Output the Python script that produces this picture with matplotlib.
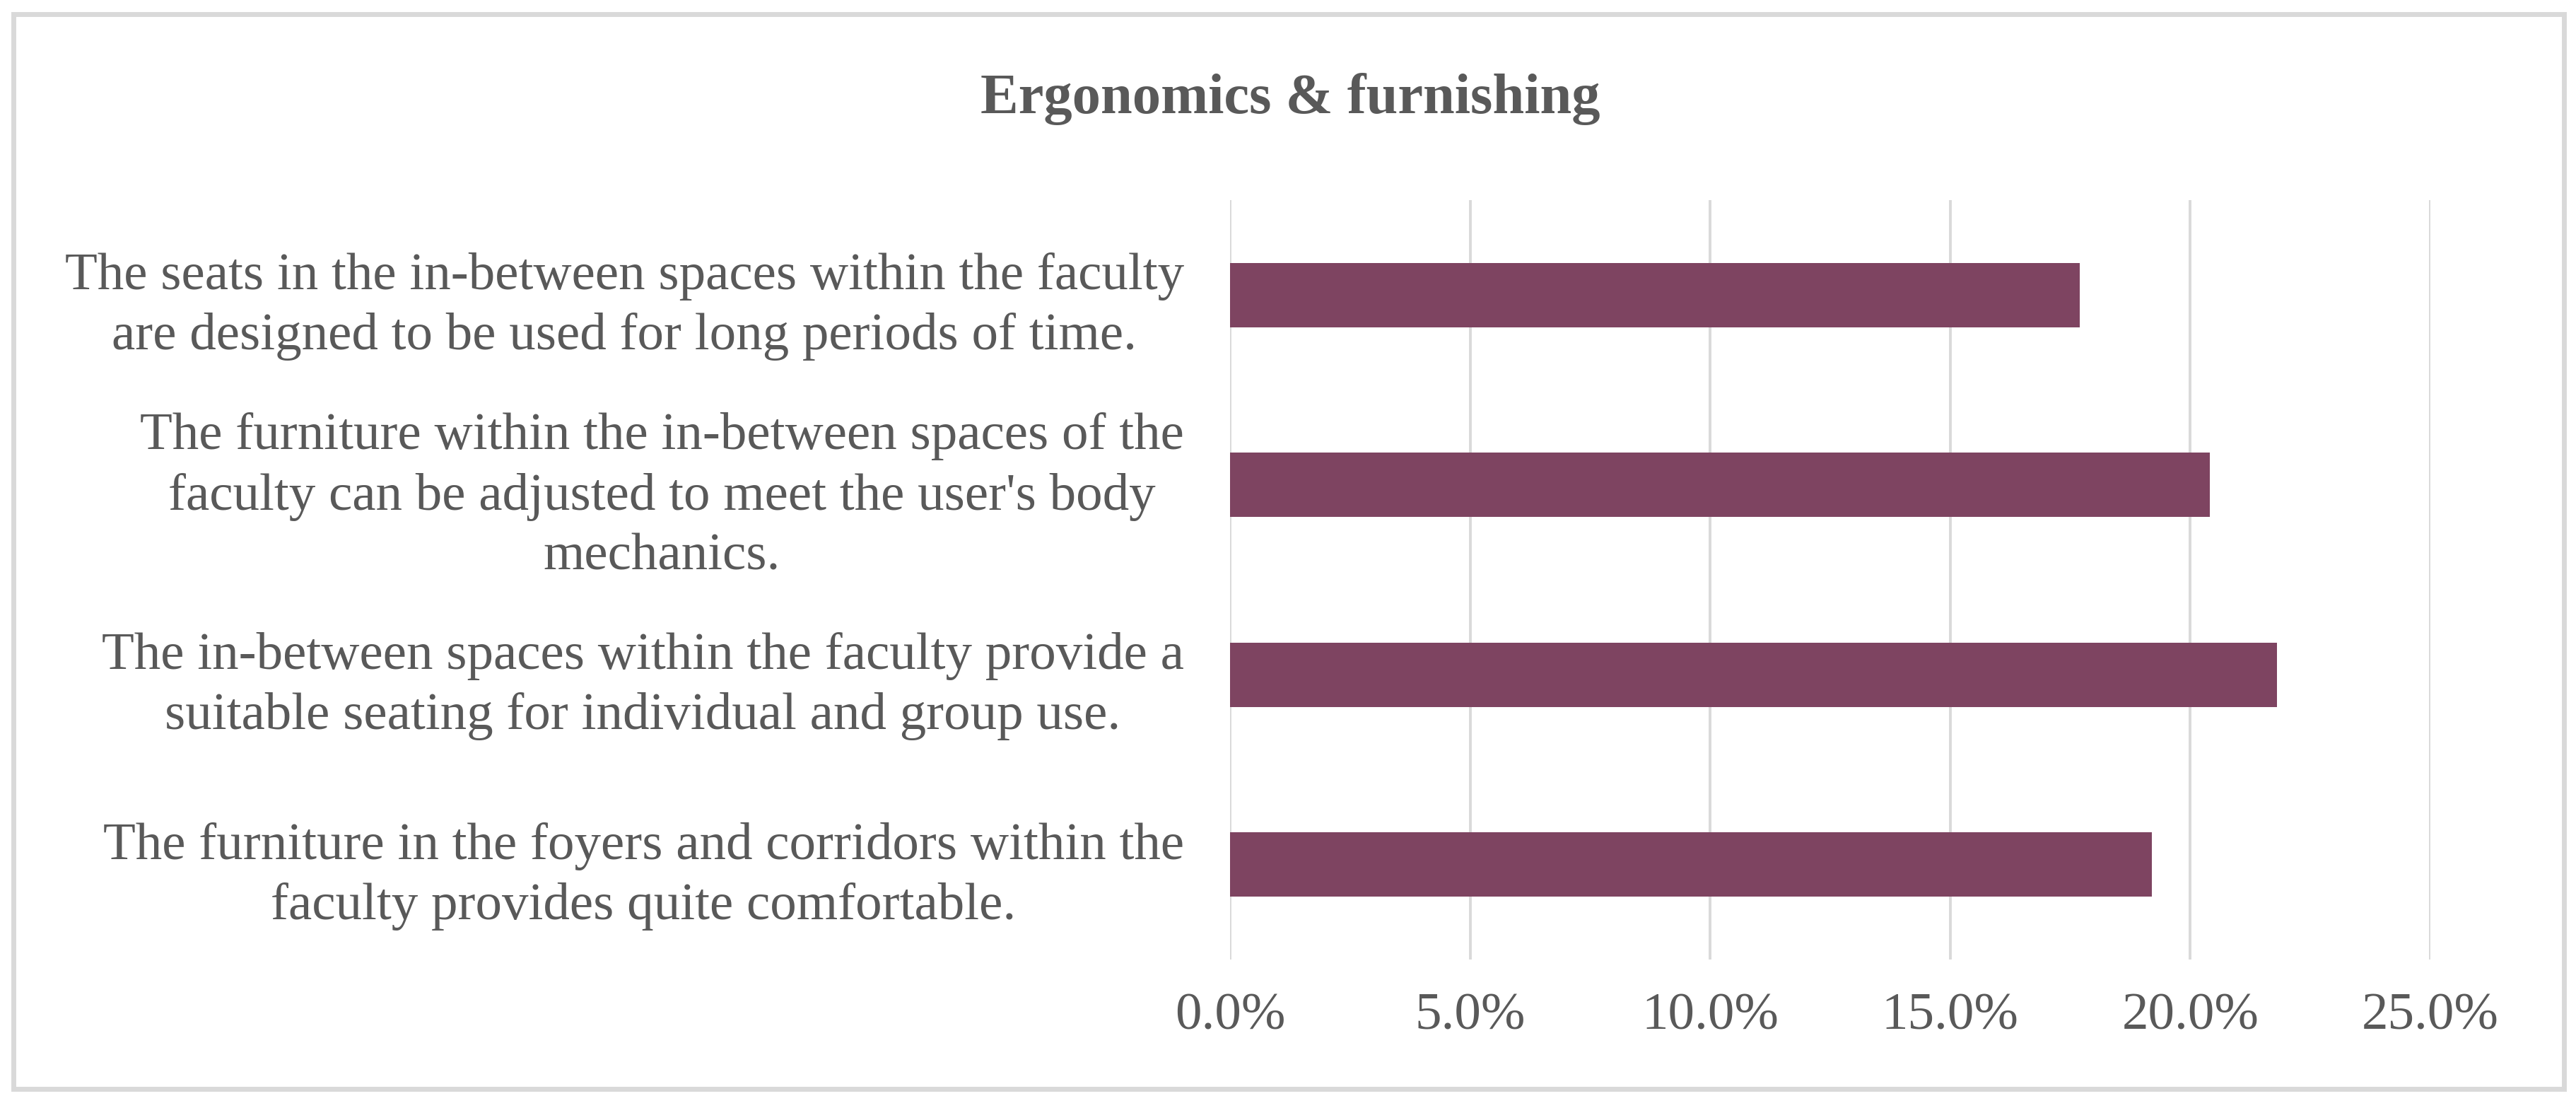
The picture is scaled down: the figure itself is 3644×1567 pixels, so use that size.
#! /usr/bin/env python3

import matplotlib
matplotlib.use('Agg')
import matplotlib.pyplot as plt
from matplotlib.patches import Rectangle
from matplotlib.ticker import PercentFormatter


TITLE = 'Ergonomics & furnishing'
STATEMENTS = [
    'The seats in the in-between spaces within the faculty\n'
    'are designed to be used for long periods of time.',
    'The furniture within the in-between spaces of the\n'
    "faculty can be adjusted to meet the user's body\n"
    'mechanics.',
    'The in-between spaces within the faculty provide a\n'
    'suitable seating for individual and group use.',
    'The furniture in the foyers and corridors within the\n'
    'faculty provides quite comfortable.',
]
SHARES = [0.177, 0.204, 0.218, 0.192]  # top to bottom
X_TICKS = [0.0, 0.05, 0.10, 0.15, 0.20, 0.25]

BAR_COLOR = '#7e4461'
GRID_COLOR = '#d9d9d9'
TEXT_COLOR = '#595959'

plt.rcParams['font.family'] = ['Liberation Serif', 'DejaVu Serif']

W, H = 3644, 1567
fig = plt.figure(figsize=(W / 100, H / 100), dpi=100)

# light grey frame round the whole chart, like the Excel chart area
fig.patches.append(Rectangle((19 / W, 27 / H), 3608 / W, 1520 / H,
                             transform=fig.transFigure, fill=False,
                             edgecolor=GRID_COLOR, linewidth=5))

ax = fig.add_axes([1740 / W, 1 - 1357 / H, (3438 - 1740) / W, (1357 - 283) / H])

y_pos = list(range(len(SHARES)))
ax.barh(y_pos, SHARES, height=0.34, color=BAR_COLOR, zorder=3)

ax.set_xlim(0, 0.25)
ax.set_ylim(len(SHARES) - 0.5, -0.5)  # first statement on top
ax.set_xticks(X_TICKS)
ax.xaxis.set_major_formatter(PercentFormatter(1.0, decimals=1))
ax.set_yticks(y_pos)
ax.set_yticklabels(STATEMENTS, multialignment='center', linespacing=1.33)

ax.grid(axis='x', color=GRID_COLOR, linewidth=2.8, zorder=0)
for side in ax.spines.values():
    side.set_visible(False)
ax.tick_params(axis='both', length=0, labelsize=54, labelcolor=TEXT_COLOR)
ax.tick_params(axis='x', pad=34)
ax.tick_params(axis='y', pad=47)

fig.text(0.501, 1 - 140 / H, TITLE, ha='center', va='center',
         fontsize=58, fontweight='bold', color=TEXT_COLOR)

fig.savefig('out.png', dpi=100, facecolor='white')
